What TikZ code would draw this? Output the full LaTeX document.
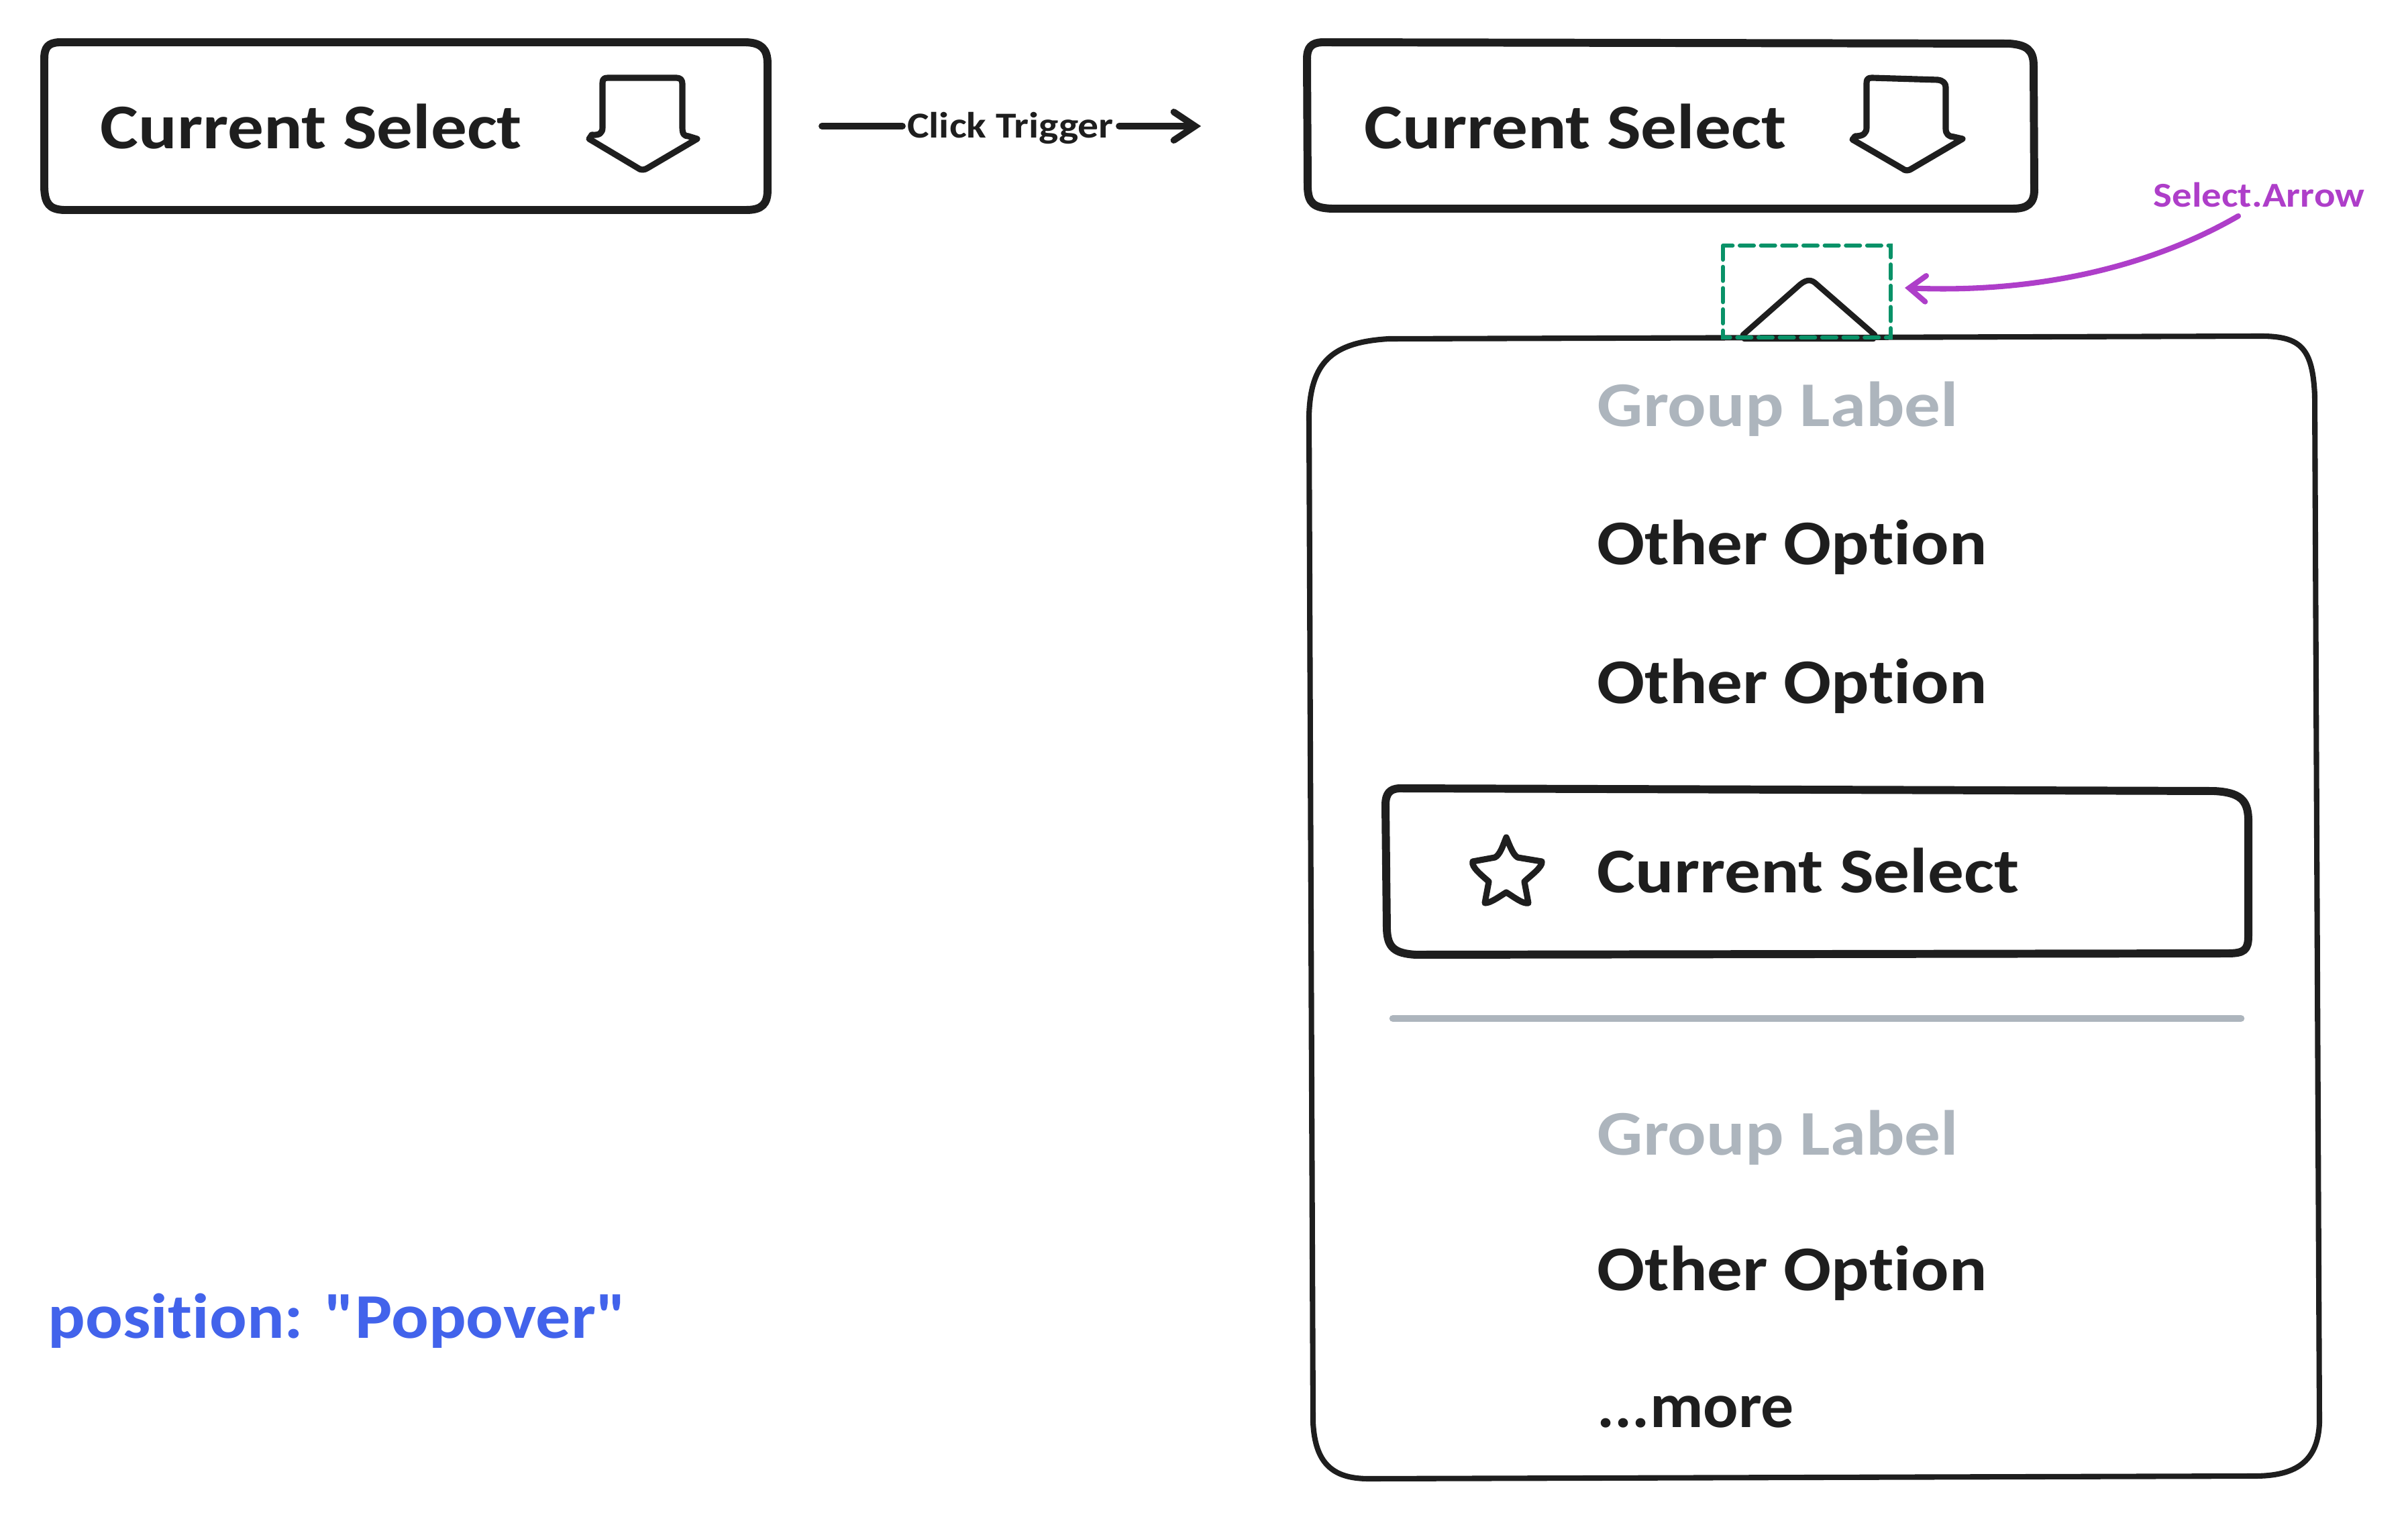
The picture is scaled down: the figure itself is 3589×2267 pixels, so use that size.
\documentclass[tikz,border=0pt]{standalone}
\usepackage{fontspec}
\usetikzlibrary{arrows.meta}
\newfontfamily\handfont{Carlito}[BoldFont={Carlito Bold},FakeStretch=1.13,Ligatures=NoCommon]
\newfontfamily\handfontO{Carlito}[BoldFont={Carlito Bold},FakeStretch=1.108,Ligatures=NoCommon]
\newfontfamily\handfontN{Carlito}[BoldFont={Carlito Bold},FakeStretch=1.095,Ligatures=NoCommon]
\newfontfamily\handfontM{Carlito}[BoldFont={Carlito Bold},FakeStretch=1.03,Ligatures=NoCommon]
\definecolor{ink}{HTML}{1E1E1E}
\definecolor{mute}{HTML}{ADB5BD}
\definecolor{azure}{HTML}{4263EB}
\definecolor{violetx}{HTML}{AE3EC9}
\definecolor{greenx}{HTML}{099268}
\tikzset{
  sk/.style={draw=ink,line join=round,line cap=round},
  thick box/.style={sk,line width=3.4pt},
  icon/.style={sk,line width=2.6pt},
  big/.style={anchor=base west,inner sep=0pt,text=ink,font=\handfont\fontsize{27}{27}\selectfont\bfseries},
  biggray/.style={big,text=mute},
  optionline/.style={big,font=\handfontO\fontsize{27}{27}\selectfont\bfseries},
  small/.style={anchor=base,inner sep=0pt,font=\handfont\fontsize{15.5}{15.5}\selectfont\bfseries},
}
\begin{document}
\begin{tikzpicture}[x=0.01cm,y=-0.01cm]
\path[use as bounding box,fill=white] (0,0) rectangle (3589,2267);

% trigger box, closed
\draw[thick box] (88,63) -- (1112,63) .. controls (1134,64) and (1144,72) .. (1144,95) -- (1144,283)
  .. controls (1144,304) and (1136,313) .. (1112,313) -- (95,313) .. controls (74,312) and (67,304) .. (66,280)
  -- (66,88) .. controls (66,70) and (72,64) .. (88,63) -- cycle;
\node[big] (curA) at (149,222) {Current Select};
\draw[icon] (898,124) .. controls (898,118) and (900,116) .. (906,116) -- (1008,116)
  .. controls (1014,116) and (1017,119) .. (1017,125) -- (1017,190) .. controls (1017,200) and (1020,203) .. (1026,203)
  -- (1039,207) -- (966,250) .. controls (960,254) and (955,254) .. (950,250) -- (878,207) -- (882,201)
  .. controls (894,202) and (898,198) .. (898,190) -- cycle;

% trigger box, open
\draw[thick box] (1970,63) -- (2995,65) .. controls (3020,67) and (3031,74) .. (3031,98) -- (3032,283)
  .. controls (3032,303) and (3022,311) .. (3000,311) -- (1985,311) .. controls (1957,310) and (1950,302) .. (1949,280)
  -- (1948,88) .. controls (1948,70) and (1955,64) .. (1970,63) -- cycle;
\node[big] (curB) at (2033,222) {Current Select};
\draw[icon] (2782,124) .. controls (2782,118) and (2784,116) .. (2790,116) -- (2888,119)
  .. controls (2896,120) and (2900,124) .. (2900,130) -- (2900,192) .. controls (2900,200) and (2905,204) .. (2912,204)
  -- (2925,207) -- (2850,251) .. controls (2844,255) and (2840,255) .. (2835,251) -- (2761,208) -- (2765,203)
  .. controls (2778,203) and (2782,198) .. (2782,190) -- cycle;

% click connector
\node[small,text=ink] (click) at (1506,206) {Click Trigger};
\coordinate (clickfrom) at (1225,188);
\coordinate (clickto) at (1790,188);
\draw[sk,line width=2.8pt] (clickfrom) -- (1345,188);
\draw[sk,line width=2.8pt,-{Straight Barb[length=9pt,width=12pt,line cap=round]}] (1668,188) -- (clickto);

% popover panel
\draw[sk,line width=2.3pt] (2070,505) -- (3370,501) .. controls (3430,501) and (3447,520) .. (3450,590)
  -- (3457,2120) .. controls (3455,2180) and (3420,2200) .. (3360,2200) -- (2040,2204)
  .. controls (1985,2204) and (1960,2180) .. (1957,2120) -- (1951,620) .. controls (1953,540) and (1985,510) .. (2070,505) -- cycle;

% pointer triangle and dashed frame
\draw[sk,line width=2.4pt] (2598,499) -- (2683,424) .. controls (2693,416) and (2700,416) .. (2708,424) -- (2794,499) -- (2792,505) -- (2600,505) -- cycle;
\draw[draw=greenx,line width=1.7pt,dash pattern=on 6pt off 3pt,line cap=round] (2568,366) rectangle (2818,503);

% annotation
\node[small,text=violetx,font=\handfont\fontsize{14.8}{14.8}\selectfont\bfseries] (anno) at (3367,309) {Select.Arrow};
\coordinate (annofrom) at (3336,322);
\coordinate (annoto) at (2839,429);
\draw[draw=violetx,line width=2.3pt,line cap=round,-{Straight Barb[length=7pt,width=11pt,line cap=round]}] (annofrom) .. controls (3180,412) and (3000,436) .. (annoto);

% option list
\node[biggray] (groupA) at (2380,636) {Group Label};
\node[optionline] (optA) at (2380,842) {Other Option};
\node[optionline] (optB) at (2380,1048) {Other Option};
\draw[thick box] (2085,1175) -- (3300,1179) .. controls (3338,1181) and (3350,1192) .. (3351,1220) -- (3351,1395)
  .. controls (3351,1416) and (3345,1421) .. (3320,1421) -- (2110,1423) .. controls (2078,1421) and (2068,1412) .. (2067,1385)
  -- (2065,1200) .. controls (2065,1182) and (2072,1176) .. (2085,1175) -- cycle;
\draw[icon] (2245,1248) .. controls (2250,1260) and (2255,1274) .. (2262,1278) -- (2298,1284)
  .. controls (2300,1292) and (2280,1306) .. (2272,1314) -- (2278,1346) .. controls (2270,1348) and (2255,1336) .. (2245,1330)
  .. controls (2235,1336) and (2222,1346) .. (2213,1346) -- (2219,1314) .. controls (2210,1306) and (2192,1292) .. (2195,1284)
  -- (2228,1278) .. controls (2236,1274) and (2240,1260) .. (2245,1248) -- cycle;
\node[big] (curC) at (2380,1330) {Current Select};
\draw[draw=mute,line width=3pt,line cap=round] (2076,1518) -- (3340,1518);
\node[biggray] (groupB) at (2380,1721) {Group Label};
\node[optionline] (optC) at (2380,1923) {Other Option};
\node[big,font=\handfontM\fontsize{27}{27}\selectfont\bfseries] (more) at (2380,2127) {...more};

% note
\node[big,text=azure,font=\handfontN\fontsize{27}{27}\selectfont\bfseries] (note) at (71,1994) {position: "Popover"};
\end{tikzpicture}
\end{document}
